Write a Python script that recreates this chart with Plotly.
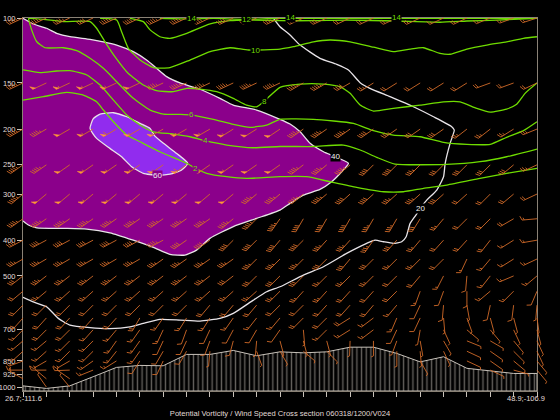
import math
import plotly.graph_objects as go

# cross section stations run 0..22, pressure in hPa
stations = list(range(23))
tick_p = [100, 150, 200, 250, 300, 400, 500, 700, 850, 925, 1000]
bottom_p = 1025.3
levels = [100, 150, 200, 250, 300, 350, 400, 450, 500, 550, 600, 650, 700, 750, 800, 850, 900, 950, 1000]

terrain_p = [993, 1009, 993, 938, 885, 874, 876, 816, 816, 796, 823, 803, 808, 803, 780, 780, 811, 855, 828, 890, 904, 919, 919]

# potential vorticity contours
pv2_x = [0, .87, 1.87, 2.58, 3.15, 3.44, 3.87, 4.44, 5.01, 5.86, 7.01, 7.43, 7.86, 8.72, 9.57, 11, 12.14, 13.14, 14.28, 15.43, 16.28, 17.14, 18.14, 19.56, 20.7, 22]
pv2_p = [166.9, 163.4, 159, 161.7, 168.7, 177.6, 191.1, 207.6, 216.5, 230.4, 247.6, 256.6, 263.5, 269.2, 272, 269.2, 269.2, 277.8, 287.8, 295.7, 295.7, 289.5, 283.6, 272, 263.5, 255.5]
pv4_x = [0, .73, 1.44, 2.01, 2.73, 3.3, 3.87, 4.44, 5.01, 5.58, 6.44, 7.15, 7.79, 8.72, 9.86, 11, 12.43, 13.71, 14.43, 15.14, 15.92, 18.14, 19.56, 20.7, 22]
pv4_p = [138.3, 140.6, 139.2, 138.9, 142.7, 151.9, 166.9, 183.2, 195, 203.4, 206.3, 209.8, 215.1, 221, 224.7, 223, 223, 221, 227.9, 238.6, 248.8, 249.3, 245.2, 237.7, 226.5]
pv6_x = [.23, .37, .59, .94, 1.73, 2.3, 2.87, 3.44, 4.01, 4.72, 5.44, 6.01, 6.72, 7.22, 8.15, 9, 9.72, 10.43, 11, 12.43, 14.14, 15, 15.85, 17, 18, 19, 20, 20.7, 21.42, 22]
pv6_p = [100.2, 107.7, 116, 120.4, 120.4, 122.6, 128.6, 136.9, 148.8, 165.1, 177.6, 182.1, 182.5, 183.2, 188.2, 194.2, 197.8, 195, 188.2, 188.2, 193, 202, 207.6, 209.8, 217.3, 220, 220, 210.6, 202, 191.1]
pv8_x = [.23, .87, 1.73, 2.87, 3.15, 3.51, 3.94, 4.51, 5.15, 5.72, 6.44, 7.01, 7.58, 8.29, 9, 9.57, 10, 10.33, 11, 11.86, 12.86, 13.57, 14, 14.43, 15, 15.85, 17, 18, 18.71, 19.42, 20, 20.7, 21.13, 21.49, 22]
pv8_p = [100.2, 100.8, 102.3, 102.3, 106.6, 116, 127.4, 141.4, 151.9, 157.4, 158.4, 155.1, 155.8, 158.4, 165.1, 172.2, 174, 167.9, 154.1, 151, 151, 153.5, 160, 172.2, 178.7, 175.8, 172.2, 168.7, 168.7, 175.8, 179.9, 176.5, 171.4, 160, 150]
pv10_x = [3.3, 4.01, 4.22, 4.51, 5.01, 5.58, 6.29, 7.15, 8.01, 8.86, 9.65, 11, 11.57, 12.43, 13.14, 14, 15, 15.85, 16.57, 17.14, 17.85, 18.28, 19, 19.85, 20.7, 21.42, 22]
pv10_p = [100.2, 101.3, 108.9, 120.8, 130, 136.3, 136.3, 130, 123.4, 120.4, 122.1, 121.4, 119.6, 116, 114.7, 116, 120, 123.4, 121.4, 120.4, 124.7, 125.4, 121.4, 118.4, 116, 113.5, 112.4]
pv12_x = [4.58, 5.15, 5.44, 5.86, 6.29, 7.01, 8.01, 8.86, 9.57, 11, 12.43, 13.86, 16, 17.85, 19, 20.28, 22]
pv12_p = [100.2, 102.3, 107.7, 112.4, 113.5, 110, 103.8, 101.7, 101.3, 101.7, 101.7, 101.3, 101.9, 102.7, 101.9, 101.3, 100.2]
pv14_x = [5.86, 7.22, 8.15, 9.43, 11, 16, 22]
pv14_p = [100.2, 100.6, 100.2, 100.8, 100.2, 100.2, 100.2]

# wind speed contours
ws40_x = [0, .44, 1.01, 1.44, 2.01, 2.87, 3.44, 4.01, 4.72, 5.29, 5.72, 6.15, 6.72, 7.58, 8.43, 9, 10, 11, 11.43, 11.86, 12.29, 12.86, 13.36, 13.93, 13.64, 13.21, 12.71, 12, 11.43, 11, 10, 9, 8, 7.43, 6.93, 6.29, 5.58, 4.72, 3.72, 2.73, 1.73, .59, .23, 0]
ws40_p = [100.2, 103.8, 106.6, 110, 112.4, 114.2, 116, 118.4, 123.4, 130, 136.9, 144.2, 150, 156, 165.1, 172.2, 177.6, 188.2, 193.8, 203.4, 218.6, 230.4, 237.7, 247.6, 261, 277.8, 291.4, 301.9, 318, 331.5, 349.2, 367.5, 395.5, 425.6, 439, 437.2, 418.5, 400, 382, 373.2, 371.6, 370.4, 364, 355]
ws60_x = [2.87, 3.01, 3.3, 3.87, 4.44, 5.01, 5.44, 5.61, 6.01, 6.58, 7.05, 6.79, 6.29, 5.72, 5.15, 4.65, 4.22, 3.72, 3.15, 2.87]
ws60_p = [199.3, 187.3, 182.1, 180.6, 185.2, 193, 199.3, 207.6, 218.6, 232.9, 247.6, 258.2, 265, 266.8, 263.5, 252.9, 237.7, 225.6, 212, 199.3]
ws20_x = [10.72, 11, 11.43, 11.86, 12.71, 13.43, 13.93, 14.43, 14.85, 15.71, 16.71, 17.57, 18.35, 18.46, 18.28, 18.07, 18, 17.71, 17.28, 17, 16.92, 16.57, 16.4, 16.21, 15.85, 15.43, 15.07, 14.71, 13.85, 12.86, 12, 11, 10.43, 9.86, 9, 8.43, 7.58, 6.72, 5.86, 5.15, 4.58, 3.72, 2.87, 2.01, 1.51, 1.01, .44, 0]
ws20_p = [100.2, 105.6, 111.2, 118.4, 128.6, 133.5, 138.3, 149.7, 155.1, 163.4, 174, 185.2, 197, 201.2, 218.6, 247.6, 269.2, 292.6, 311.5, 328, 335, 360.2, 391.6, 404, 408.1, 404, 399.8, 408.1, 434.5, 472.3, 497.4, 535, 552, 581.4, 631.7, 651.7, 662.9, 658.7, 655.8, 672.4, 686.8, 694.5, 690.4, 679.6, 651.7, 606.2, 588, 571.3]

# contour labels
label_text = ['14', '12', '14', '14', '10', '8', '6', '4', '2']
label_x = [7.22, 9.57, 11.47, 16, 9.93, 10.33, 7.22, 7.79, 7.39]
label_p = [100.4, 101.1, 100, 100, 122.5, 168, 183, 215, 255]
white_text = ['60', '40', '20']
white_x = [5.75, 13.36, 17]
white_p = [267, 238, 329]

# wind barbs: speed in knots, direction the staff points in degrees, one row per level
_ = None
spd_100 = [45, 45, 45, 40, 45, 40, 45, 45, 40, 40, 40, 35, 30, 30, 20, 20, 20, 20, 15, 20, 15, 15, 15]
dir_100 = [245, 245, 245, 245, 245, 245, 245, 245, 245, 245, 245, 245, 245, 245, 245, 245, 245, 245, 245, 245, 248, 250, 252]
spd_150 = [45, 50, 55, 55, 55, 50, 45, 45, 45, 45, 45, 45, 45, 45, 40, 25, 20, 20, 20, 20, 20, 20, 20]
dir_150 = [245, 245, 245, 245, 245, 245, 245, 245, 245, 245, 245, 245, 240, 240, 240, 238, 238, 238, 238, 238, 250, 250, 245]
spd_200 = [45, 45, 50, 55, 60, 55, 55, 55, 55, 55, 50, 50, 45, 45, 45, 40, 35, 30, 30, 25, 25, 25, 25]
dir_200 = [240, 240, 240, 240, 240, 240, 240, 240, 240, 238, 238, 236, 235, 235, 235, 235, 235, 235, 235, 232, 232, 238, 248]
spd_250 = [45, 45, 50, 55, 55, 55, 55, 60, 55, 55, 50, 50, 45, 45, 45, 40, 40, 35, 30, 30, 30, 30, 25]
dir_250 = [235, 235, 235, 235, 235, 235, 235, 235, 235, 235, 235, 235, 232, 230, 230, 225, 225, 225, 225, 225, 225, 230, 245]
spd_300 = [45, 50, 50, 55, 55, 55, 55, 55, 50, 50, 45, 45, 45, 45, 40, 40, 35, 35, 30, 20, 20, 20, 20]
dir_300 = [230, 230, 230, 230, 230, 230, 230, 230, 230, 230, 230, 230, 230, 230, 228, 228, 228, 228, 228, 228, 225, 230, 245]
spd_350 = [45, 45, 45, 45, 45, 45, 45, 45, 45, 45, 45, 45, 40, 40, 40, 35, 35, 30, 25, 20, 20, 20, 15]
dir_350 = [235, 235, 235, 235, 235, 235, 235, 235, 235, 230, 225, 215, 210, 210, 210, 210, 210, 212, 220, 225, 225, 240, 265]
spd_400 = [40, 40, 40, 40, 40, 40, 45, 40, 40, 40, 40, 40, 40, 35, 35, 35, 30, 25, 20, 20, 20, 15, 15]
dir_400 = [242, 242, 242, 242, 242, 242, 242, 235, 235, 225, 225, 220, 225, 222, 222, 215, 222, 220, 222, 222, 218, 238, 260]
spd_450 = [35, 35, 35, 35, 35, 35, 35, 35, 35, 35, 35, 35, 35, 30, 30, 30, 25, 25, 20, 15, 15, 15, 15]
dir_450 = [240, 240, 240, 240, 240, 240, 235, 235, 235, 235, 225, 225, 225, 225, 220, 225, 225, 225, 225, 205, 220, 238, 245]
spd_500 = [30, 35, 35, 35, 35, 35, 35, 35, 35, 30, 30, 30, 30, 25, 25, 25, 20, 20, 15, 10, 15, 15, 15]
dir_500 = [232, 232, 232, 232, 232, 232, 232, 232, 232, 232, 225, 225, 225, 225, 225, 225, 225, 220, 207, 185, 218, 247, 230]
spd_550 = [20, 25, 25, 25, 25, 25, 25, 25, 25, 25, 25, 25, 25, 25, 20, 20, 20, 15, 10, 10, 15, 15, 10]
dir_550 = [230, 230, 228, 228, 228, 228, 228, 228, 228, 228, 228, 225, 222, 222, 222, 222, 225, 200, 200, 180, 230, 225, 203]
spd_600 = [20, 20, 20, 20, 20, 20, 20, 20, 20, 20, 20, 20, 20, 20, 20, 20, 15, 10, 10, 5, 10, 10, 5]
dir_600 = [225, 225, 225, 225, 225, 225, 225, 225, 220, 220, 220, 225, 225, 222, 222, 220, 220, 205, 185, 170, 192, 187, 185]
spd_650 = [20, 20, 20, 20, 20, 20, 15, 15, 15, 15, 15, 15, 20, 20, 20, 15, 15, 10, 5, 5, 5, 5, 5]
dir_650 = [222, 222, 222, 222, 222, 210, 215, 212, 212, 215, 218, 220, 225, 225, 238, 233, 203, 205, 175, 160, 165, 165, 172]
spd_700 = [15, 20, 20, 15, 15, 15, 15, 10, 10, 10, 10, 10, 5, 15, 15, 15, 10, 5, 5, 5, 5, 5, 5]
dir_700 = [225, 225, 225, 222, 220, 215, 205, 200, 205, 208, 210, 215, 175, 225, 238, 233, 205, 190, 155, 130, 140, 155, 165]
spd_750 = [15, 15, 15, 15, 15, 15, 10, 10, 10, 10, 5, 5, 5, 5, 5, 5, 5, 5, 5, 5, 5, 5, 5]
dir_750 = [230, 230, 225, 225, 215, 215, 205, 205, 200, 195, 185, 165, 165, 165, 182, 180, 200, 170, 150, 112, 120, 140, 155]
spd_800 = [15, 15, 15, 15, 15, 15, 10, 10, 5, _, 5, 5, 5, 5, _, _, 5, 5, 5, 5, 5, 5, 5]
dir_800 = [228, 228, 225, 225, 218, 215, 210, 210, 185, _, 160, 150, 130, 135, _, _, 180, 175, 155, 115, 125, 135, 155]
spd_850 = [15, 15, 15, 15, 15, 10, 10, _, _, _, _, _, _, _, _, _, _, 5, _, 5, 5, 5, 5]
dir_850 = [250, 240, 240, 235, 238, 212, 205, _, _, _, _, _, _, _, _, _, _, 150, _, 115, 125, 130, 140]
spd_900 = [15, 10, 10, 15, _, _, _, _, _, _, _, _, _, _, _, _, _, _, _, _, 5, 5, 5]
dir_900 = [270, 270, 268, 248, _, _, _, _, _, _, _, _, _, _, _, _, _, _, _, _, 115, 105, 140]
spd_950 = [10, 5, 5, _, _, _, _, _, _, _, _, _, _, _, _, _, _, _, _, _, _, _, _]
dir_950 = [300, 310, 305, _, _, _, _, _, _, _, _, _, _, _, _, _, _, _, _, _, _, _, _]
spd_1000 = [_, 5, 5, _, _, _, _, _, _, _, _, _, _, _, _, _, _, _, _, _, _, _, _]
dir_1000 = [_, 325, 320, _, _, _, _, _, _, _, _, _, _, _, _, _, _, _, _, _, _, _, _]

wind_spd = [spd_100, spd_150, spd_200, spd_250, spd_300, spd_350, spd_400, spd_450, spd_500, spd_550, spd_600,
            spd_650, spd_700, spd_750, spd_800, spd_850, spd_900, spd_950, spd_1000]
wind_dir = [dir_100, dir_150, dir_200, dir_250, dir_300, dir_350, dir_400, dir_450, dir_500, dir_550, dir_600,
            dir_650, dir_700, dir_750, dir_800, dir_850, dir_900, dir_950, dir_1000]

WIDTH, HEIGHT = 560, 420
LEFT, RIGHT, TOP, BOTTOM = 23, 23, 18, 29
plot_w = WIDTH - LEFT - RIGHT
plot_h = HEIGHT - TOP - BOTTOM
log_bottom = math.log10(bottom_p)
log_span = log_bottom - 2
STAFF = 15

GREEN = '#6fdc00'
WHITE = '#e8e4e8'
BARB = '#d06a28'
FLAG = '#ff9838'
GRID = '#8a8276'
TEXT = '#e0dcd8'


def offset(x, p, length, bearing):
    # move a point by a length in screen pixels, along a compass bearing
    a = math.radians(bearing)
    nx = x + length * math.sin(a) * 22 / plot_w
    np_ = p * 10 ** (-length * math.cos(a) * log_span / plot_h)
    return nx, np_


line_x, line_p, flag_x, flag_p = [], [], [], []
for p, spd_row, dir_row in zip(levels, wind_spd, wind_dir):
    for s, spd, bearing in zip(stations, spd_row, dir_row):
        if spd is None:
            continue
        tx, tp = offset(s, p, STAFF, bearing)
        line_x += [s, tx, None]
        line_p += [p, tp, None]
        pos = 0
        left = spd
        while left >= 50:
            ax, ap = offset(s, p, STAFF - pos, bearing)
            bx, bp = offset(s, p, STAFF - pos - 3, bearing)
            cx, cp = offset(ax, ap, 4, bearing + 65)
            flag_x += [ax, cx, bx, ax, None]
            flag_p += [ap, cp, bp, ap, None]
            pos += 4
            left -= 50
        while left >= 10:
            ax, ap = offset(s, p, STAFF - pos, bearing)
            cx, cp = offset(ax, ap, 4.5, bearing + 65)
            line_x += [ax, cx, None]
            line_p += [ap, cp, None]
            pos += 2.2
            left -= 10
        if left >= 5:
            ax, ap = offset(s, p, STAFF - pos, bearing)
            cx, cp = offset(ax, ap, 2.5, bearing + 65)
            line_x += [ax, cx, None]
            line_p += [ap, cp, None]

fig = go.Figure()

# terrain with vertical hatching
fig.add_trace(go.Scatter(x=[0] + stations + [22, 0], y=[bottom_p] + terrain_p + [bottom_p, bottom_p],
                         mode='lines', line=dict(color='#c8c2ba', width=1), fill='toself',
                         fillcolor='rgba(0,0,0,0)',
                         fillpattern=dict(shape='|', size=4.67, solidity=0.3, fgcolor='#c8c2ba', bgcolor='#000000'),
                         hoverinfo='skip'))

# wind speed shading
smooth = dict(shape='spline', smoothing=0.5)
fig.add_trace(go.Scatter(x=ws40_x, y=ws40_p, mode='lines', line=dict(color=WHITE, width=1.3, **smooth),
                         fill='toself', fillcolor='#8b008b'))
fig.add_trace(go.Scatter(x=ws60_x, y=ws60_p, mode='lines', line=dict(color=WHITE, width=1.3, **smooth),
                         fill='toself', fillcolor='#912cee'))
fig.add_trace(go.Scatter(x=ws20_x, y=ws20_p, mode='lines', line=dict(color=WHITE, width=1.3, **smooth)))

for px, pp in [(pv2_x, pv2_p), (pv4_x, pv4_p), (pv6_x, pv6_p), (pv8_x, pv8_p),
               (pv10_x, pv10_p), (pv12_x, pv12_p), (pv14_x, pv14_p)]:
    fig.add_trace(go.Scatter(x=px, y=pp, mode='lines', line=dict(color=GREEN, width=1.3, **smooth)))

# barbs go on a second pair of axes over the whole page, the outer ones stick out of the frame
fig.add_trace(go.Scatter(x=line_x, y=line_p, mode='lines', line=dict(color=BARB, width=0.9),
                         xaxis='x2', yaxis='y2'))
fig.add_trace(go.Scatter(x=flag_x, y=flag_p, mode='lines', line=dict(color=FLAG, width=0.5), fill='toself',
                         fillcolor=FLAG, xaxis='x2', yaxis='y2'))

annotations = []
for t, x, p in zip(label_text, label_x, label_p):
    annotations.append(dict(x=x, y=math.log10(p), text=t, showarrow=False, borderpad=0,
                            font=dict(color=GREEN, size=8, family='Liberation Sans'),
                            bgcolor='#8b008b' if t in ('6', '4', '2') else '#000000'))
for t, x, p in zip(white_text, white_x, white_p):
    annotations.append(dict(x=x, y=math.log10(p), text=t, showarrow=False, borderpad=0,
                            font=dict(color='#f0f0f0', size=8, family='Liberation Sans'),
                            bgcolor='#8b008b' if t == '60' else '#000000'))
annotations.append(dict(x=23.5 / WIDTH, xref='paper', xanchor='center', y=1 - 398 / HEIGHT, yref='paper',
                        yanchor='middle', text='26.7;-111.6', showarrow=False,
                        font=dict(color=TEXT, size=7.5, family='Liberation Sans')))
annotations.append(dict(x=525.5 / WIDTH, xref='paper', xanchor='center', y=1 - 398 / HEIGHT, yref='paper',
                        yanchor='middle', text='48.9;-106.9', showarrow=False,
                        font=dict(color=TEXT, size=7.5, family='Liberation Sans')))

x_pad = LEFT * 22 / plot_w
fig.update_layout(
    width=WIDTH, height=HEIGHT, showlegend=False,
    paper_bgcolor='#000000', plot_bgcolor='rgba(0,0,0,0)',
    margin=dict(l=0, r=0, t=0, b=0, pad=0, autoexpand=False),
    title=dict(text='Potential Vorticity / Wind Speed Cross section 060318/1200/V024',
               x=0.5, xanchor='center', y=0.0167, yanchor='middle',
               font=dict(color=TEXT, size=7.6, family='Liberation Sans')),
    annotations=annotations,
    xaxis=dict(domain=[LEFT / WIDTH, 1 - RIGHT / WIDTH], range=[0, 22], tickvals=stations, ticktext=[''] * 23,
               ticks='outside', ticklen=5, tickwidth=1, tickcolor='#c8c2ba', showgrid=False, zeroline=False,
               showline=True, linecolor=GRID, linewidth=1, mirror=True),
    yaxis=dict(domain=[BOTTOM / HEIGHT, 1 - TOP / HEIGHT], type='log', range=[log_bottom, 2], tickvals=tick_p,
               ticktext=[str(v) for v in tick_p], ticks='outside', ticklen=5, tickwidth=1, tickcolor='#c8c2ba',
               showgrid=False, zeroline=False, showline=True, linecolor=GRID, linewidth=1, mirror=True,
               tickfont=dict(color=TEXT, size=7.5, family='Liberation Sans')),
    xaxis2=dict(domain=[0, 1], anchor='y2', range=[-x_pad, 22 + x_pad], visible=False),
    yaxis2=dict(domain=[0, 1], anchor='x2', type='log', visible=False,
                range=[log_bottom + BOTTOM * log_span / plot_h, 2 - TOP * log_span / plot_h]),
)

# the default page margin would push the plot 8 px in
fig.write_html("out.html", config=dict(displayModeBar=False), post_script="document.body.style.margin='0'")
